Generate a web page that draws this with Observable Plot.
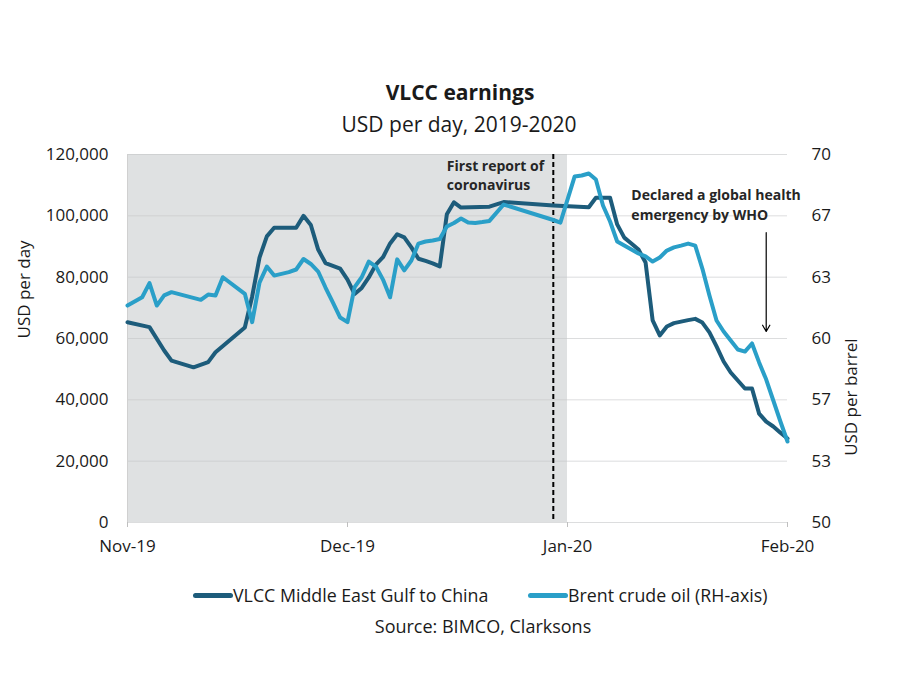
<!DOCTYPE html>
<html>
<head>
<meta charset="utf-8">
<script src="https://cdn.jsdelivr.net/npm/d3@7"></script>
<script src="https://cdn.jsdelivr.net/npm/@observablehq/plot@0.6"></script>
<style>
  body { margin: 0; background: #fff; font-family: "Open Sans", sans-serif; color: #1a1a1a; }
  #wrap { position: relative; width: 900px; height: 700px; background: #fff; overflow: hidden; }
  #title { position: absolute; top: 78px; left: 0; width: 920px; text-align: center; font-weight: 700; font-size: 21px; line-height: 28px; }
  #subtitle { position: absolute; top: 110px; left: 0; width: 918px; text-align: center; font-size: 21px; line-height: 28px; }
  #chart { position: absolute; top: 140px; left: 0; }
  .legend-item { position: absolute; top: 583px; display: flex; align-items: center; font-size: 17.8px; line-height: 24px; white-space: nowrap; }
  .swatch { width: 40px; height: 5px; border-radius: 2.5px; margin-right: 0px; }
  #source { position: absolute; top: 614px; left: 0; width: 966px; text-align: center; font-size: 18px; line-height: 24px; }
</style>
</head>
<body>
<div id="wrap">
  <div id="title"></div>
  <div id="subtitle"></div>
  <div id="chart"></div>
  <div id="legend"></div>
  <div id="source"></div>
</div>
<script>
// ---------- Data ----------
const titleText = "VLCC earnings";
const subtitleText = "USD per day, 2019-2020";
const sourceText = "Source: BIMCO, Clarksons";
const seriesNames = ["VLCC Middle East Gulf to China", "Brent crude oil (RH-axis)"];
const seriesColors = ["#1d5c7b", "#2a9fc8"];

// VLCC Middle East Gulf to China, USD per day
const vlccDates = ["2019-11-01","2019-11-04","2019-11-06","2019-11-07","2019-11-10","2019-11-12","2019-11-13",
  "2019-11-17","2019-11-18","2019-11-19","2019-11-20","2019-11-21","2019-11-24","2019-11-25","2019-11-26",
  "2019-11-27","2019-11-28","2019-11-30","2019-12-01","2019-12-02","2019-12-03","2019-12-04","2019-12-05",
  "2019-12-06","2019-12-07","2019-12-08","2019-12-09","2019-12-10","2019-12-11","2019-12-12","2019-12-13",
  "2019-12-14","2019-12-15","2019-12-16","2019-12-17","2019-12-21","2019-12-23","2019-12-30","2020-01-04",
  "2020-01-05","2020-01-07","2020-01-08","2020-01-09","2020-01-10","2020-01-11","2020-01-12","2020-01-13",
  "2020-01-14","2020-01-15","2020-01-16","2020-01-17","2020-01-18","2020-01-19","2020-01-20","2020-01-21",
  "2020-01-22","2020-01-23","2020-01-24","2020-01-25","2020-01-26","2020-01-27","2020-01-28","2020-01-29",
  "2020-01-30","2020-01-31","2020-02-01"];
const vlccValues = [65300,63700,56100,52800,50600,52300,55500,
  63600,73700,86400,93300,96100,96100,100000,97000,
  89000,84600,82800,79200,74500,76500,79900,84100,
  86500,91000,94000,93000,89700,86000,85300,84500,
  83500,100500,104400,102700,103000,104500,103400,102800,
  105900,105900,97200,92900,91000,89000,84800,65900,
  61000,63900,65000,65500,66000,66400,65200,62000,
  57400,52500,48900,46300,43700,43700,35500,32900,
  31300,29300,27400];

// Brent crude oil, USD per barrel (right-hand axis)
const brentDates = ["2019-11-01","2019-11-03","2019-11-04","2019-11-05","2019-11-06","2019-11-07","2019-11-11",
  "2019-11-12","2019-11-13","2019-11-14","2019-11-17","2019-11-18","2019-11-19","2019-11-20","2019-11-21",
  "2019-11-23","2019-11-24","2019-11-25","2019-11-26","2019-11-27","2019-11-28","2019-11-29","2019-11-30",
  "2019-12-01","2019-12-02","2019-12-03","2019-12-04","2019-12-05","2019-12-06","2019-12-07","2019-12-08",
  "2019-12-09","2019-12-10","2019-12-11","2019-12-12","2019-12-13","2019-12-14","2019-12-15","2019-12-16",
  "2019-12-17","2019-12-18","2019-12-19","2019-12-20","2019-12-21","2019-12-23","2019-12-30","2019-12-31",
  "2020-01-02","2020-01-03","2020-01-04","2020-01-05","2020-01-06","2020-01-07","2020-01-08","2020-01-09",
  "2020-01-10","2020-01-11","2020-01-12","2020-01-13","2020-01-14","2020-01-15","2020-01-16","2020-01-17",
  "2020-01-18","2020-01-19","2020-01-20","2020-01-21","2020-01-22","2020-01-23","2020-01-24","2020-01-25",
  "2020-01-26","2020-01-27","2020-01-28","2020-01-29","2020-01-30","2020-01-31","2020-02-01"];
const brentValues = [61.79,62.24,63.01,61.79,62.34,62.52,62.10,
  62.39,62.34,63.33,62.43,60.89,63.04,63.91,63.42,
  63.61,63.75,64.32,64.05,63.64,62.77,61.96,61.14,
  60.89,62.79,63.33,64.18,63.91,63.20,62.24,64.30,
  63.70,64.24,65.16,65.27,65.33,65.41,66.09,66.28,
  66.52,66.30,66.28,66.33,66.39,67.28,66.44,66.30,
  68.80,68.86,68.97,68.64,67.23,66.36,65.27,65.05,
  64.84,64.62,64.46,64.18,64.40,64.78,64.95,65.05,
  65.16,65.05,63.80,62.34,60.98,60.38,59.89,59.40,
  59.29,59.73,58.70,57.77,56.63,55.49,54.40];

// Axes
const monthTicks = ["2019-11-01","2019-12-01","2020-01-01","2020-02-01"];
const xTickLabels = ["Nov-19","Dec-19","Jan-20","Feb-20"];
const leftTicks = [0,20000,40000,60000,80000,100000,120000];
const rightTickLabels = ["50","53","57","60","63","67","70"];
const rightAxisMin = 50, rightAxisMax = 70, leftAxisMax = 120000;
const leftAxisTitle = "USD per day";
const rightAxisTitle = "USD per barrel";

// Events
const shadedPeriod = ["2019-11-01","2020-01-01"];
const firstReportDate = "2019-12-30";
const firstReportLabel = "First report of\ncoronavirus";
const firstReportLabelDate = "2019-12-15";
const whoDate = "2020-01-29";
const whoLabel = "Declared a global health\nemergency by WHO";
const whoLabelDate = "2020-01-10";

// ---------- Build ----------
const parse = s => new Date(s + "T00:00:00Z");
const vlcc = vlccDates.map((d, i) => ({date: parse(d), value: vlccValues[i]}));
const brent = brentDates.map((d, i) => ({date: parse(d), value: brentValues[i]}));
const toLeft = v => (v - rightAxisMin) / (rightAxisMax - rightAxisMin) * leftAxisMax;
const months = monthTicks.map(parse);

document.getElementById("title").textContent = titleText;
document.getElementById("subtitle").textContent = subtitleText;
document.getElementById("source").textContent = sourceText;

const chart = Plot.plot({
  width: 900,
  height: 420,
  marginTop: 14,
  marginBottom: 38,
  marginLeft: 127,
  marginRight: 113,
  style: {fontFamily: '"Open Sans", sans-serif', fontSize: "17px", color: "#1a1a1a", background: "transparent", overflow: "visible"},
  x: {type: "utc", domain: months, range: [127, 347, 567, 787]},
  y: {domain: [0, leftAxisMax]},
  marks: [
    Plot.rect([shadedPeriod], {x1: d => parse(d[0]), x2: d => parse(d[1]), y1: 0, y2: leftAxisMax, fill: "#dfe1e2"}),
    Plot.ruleY(leftTicks, {stroke: "#c4c6c8", strokeOpacity: 0.6}),
    Plot.ruleX([months[0]], {stroke: "#d0d0d0"}),
    Plot.ruleX([parse(firstReportDate)], {stroke: "#000", strokeWidth: 2, strokeDasharray: "5,3"}),
    Plot.lineY(vlcc, {x: "date", y: "value", stroke: seriesColors[0], strokeWidth: 4, strokeLinejoin: "round", strokeLinecap: "round"}),
    Plot.lineY(brent, {x: "date", y: d => toLeft(d.value), stroke: seriesColors[1], strokeWidth: 4, strokeLinejoin: "round", strokeLinecap: "round"}),
    Plot.arrow([parse(whoDate)], {x1: d => d, x2: d => d, y1: 94500, y2: 62300, stroke: "#000", strokeWidth: 1.2, headLength: 9, bend: 0}),
    Plot.text([firstReportLabel], {x: parse(firstReportLabelDate), y: 113500, text: d => d, textAnchor: "start", fontWeight: "bold", fontSize: 14, lineHeight: 1.4, fill: "#262626"}),
    Plot.text([whoLabel], {x: parse(whoLabelDate), y: 104000, text: d => d, textAnchor: "start", fontWeight: "bold", fontSize: 14, lineHeight: 1.4, fill: "#262626"}),
    Plot.axisY({ticks: leftTicks, tickFormat: d3.format(","), tickSize: 0, tickPadding: 19, label: null}),
    Plot.axisY({anchor: "right", ticks: leftTicks, tickFormat: d => rightTickLabels[leftTicks.indexOf(d)], tickSize: 0, tickPadding: 24, label: null}),
    Plot.axisX({ticks: months, tickFormat: d => xTickLabels[months.findIndex(m => +m === +d)], tickSize: 5, tickPadding: 12, stroke: "#bfbfbf", fill: "#1a1a1a", label: null}),
    Plot.text([leftAxisTitle], {frameAnchor: "left", dx: -103, rotate: -90, text: d => d, fontSize: 17}),
    Plot.text([rightAxisTitle], {frameAnchor: "right", dx: 64, rotate: -90, text: d => d, fontSize: 17})
  ]
});
document.getElementById("chart").appendChild(chart);

// Legend
const legend = document.getElementById("legend");
const legendLefts = [193, 528];
seriesNames.forEach((name, i) => {
  const item = document.createElement("div");
  item.className = "legend-item";
  item.style.left = legendLefts[i] + "px";
  const sw = document.createElement("div");
  sw.className = "swatch";
  sw.style.background = seriesColors[i];
  const label = document.createElement("span");
  label.textContent = name;
  item.appendChild(sw);
  item.appendChild(label);
  legend.appendChild(item);
});
</script>
</body>
</html>
